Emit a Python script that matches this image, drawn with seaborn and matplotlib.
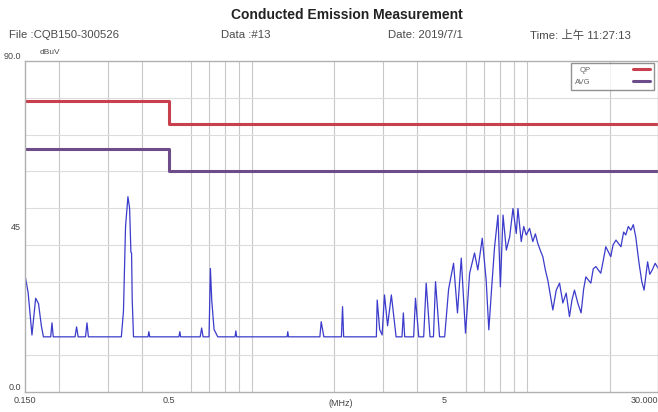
import numpy as np
import pandas as pd
import matplotlib
matplotlib.use("Agg")
import matplotlib.pyplot as plt
import matplotlib.ticker as mticker
import seaborn as sns

# measured trace (MHz, dBuV)
freq = [0.150, 0.154, 0.159, 0.164, 0.168, 0.172, 0.175,
        0.186, 0.188, 0.190, 0.228, 0.231, 0.234, 0.249, 0.252, 0.255,
        0.336, 0.342, 0.348, 0.355, 0.360, 0.364, 0.366, 0.368, 0.372,
        0.420, 0.423, 0.426, 0.544, 0.548, 0.552, 0.650, 0.658, 0.666,
        0.700, 0.708, 0.716, 0.730, 0.753, 0.870, 0.876, 0.882,
        1.345, 1.353, 1.361, 1.77, 1.79, 1.83, 2.12, 2.14, 2.16,
        2.84, 2.86, 2.92, 2.98, 3.04, 3.12, 3.22, 3.35,
        3.52, 3.56, 3.60, 3.88, 3.94, 4.05, 4.22, 4.31, 4.45, 4.58, 4.66, 4.82,
        5.03, 5.20, 5.42, 5.60, 5.78, 5.99, 6.20, 6.46, 6.64, 6.89, 7.12, 7.28,
        7.45, 7.64, 7.86, 8.02, 8.20, 8.43, 8.67, 8.91, 9.16, 9.29, 9.55, 9.75,
        9.96, 10.24, 10.52, 10.75, 10.97, 11.2, 11.44, 11.7, 11.93, 12.2, 12.44,
        12.80, 13.16, 13.53, 13.91, 14.30, 14.6, 14.91, 15.33, 15.76, 16.1,
        16.40, 17.10, 17.45, 17.83, 18.58, 19.0, 19.38, 20.2, 20.6, 21.1,
        22.0, 22.5, 22.9, 23.4, 23.9, 24.4, 24.9, 25.6, 26.2, 26.7, 27.5,
        28.0, 28.6, 29.3, 30.0]
level = [31.8, 27.0, 15.5, 25.5, 24.0, 18.0, 15.0,
         15.0, 18.8, 15.0, 15.0, 17.7, 15.0, 15.0, 18.8, 15.0,
         15.0, 22.0, 45.0, 53.1, 50.0, 38.0, 37.8, 25.0, 15.0,
         15.0, 16.4, 15.0, 15.0, 16.4, 15.0, 15.0, 17.4, 15.0,
         15.0, 33.6, 25.0, 17.0, 15.0, 15.0, 16.6, 15.0,
         15.0, 16.4, 15.0, 15.0, 19.1, 15.0, 15.0, 23.2, 15.0,
         15.0, 25.0, 17.0, 15.5, 26.4, 18.0, 26.4, 15.0,
         15.0, 21.5, 15.0, 15.0, 25.5, 15.0, 15.0, 29.6, 15.0, 15.0, 30.0, 15.0,
         15.0, 28.0, 35.0, 21.5, 36.4, 16.0, 32.3, 37.8, 33.2, 41.8, 30.4, 16.9,
         28.0, 39.5, 48.1, 28.6, 48.1, 38.6, 42.2, 49.9, 43.1, 49.9, 40.9, 45.0,
         42.7, 44.5, 40.9, 43.0, 40.4, 38.5, 36.8, 33.0, 30.4, 26.0, 22.3,
         27.7, 29.6, 24.2, 26.9, 20.5, 25.0, 27.7, 24.2, 21.5, 28.0,
         31.3, 29.6, 33.5, 34.1, 32.3, 36.0, 39.5, 36.8, 40.0, 41.3,
         39.5, 43.5, 42.7, 45.0, 44.0, 45.5, 42.2, 35.0, 30.0, 27.7, 35.4,
         32.0, 33.2, 35.0, 33.7]

# CISPR class A limits
lim_freq = [0.15, 0.5, 0.5, 30.0]
qp_limit = [79, 79, 73, 73]
avg_limit = [66, 66, 60, 60]

x_ticks = [0.15, 0.5, 5, 30]
x_labels = ["0.150", "0.5", "5", "30.000"]

sns.set_style("white")
plt.rcParams["font.family"] = ["Liberation Sans", "Noto Sans CJK SC"]

trace = pd.DataFrame({"MHz": freq, "dBuV": level})
limits = pd.DataFrame({"MHz": lim_freq * 2,
                       "dBuV": qp_limit + avg_limit,
                       "type": ["QP"] * 4 + ["AVG"] * 4})

fig = plt.figure(figsize=(6.58, 4.12), dpi=100)
ax = fig.add_axes([25 / 658, 20 / 412, 633 / 658, 331 / 412])

sns.lineplot(data=limits, x="MHz", y="dBuV", hue="type", sort=False, estimator=None,
             palette={"QP": "#c8404e", "AVG": "#6c4d8a"}, linewidth=2.2, ax=ax)
sns.lineplot(data=trace, x="MHz", y="dBuV", sort=False, estimator=None,
             color="#3b3bcc", linewidth=0.9, ax=ax, legend=False)

ax.set_xscale("log")
ax.set_xlim(0.15, 30)
ax.set_ylim(0, 90)
ax.set_xlabel("")
ax.set_ylabel("")

# grid
minor = [m * d for d in (0.1, 1, 10) for m in range(1, 10) if 0.15 < m * d < 30]
ax.set_xticks(minor, minor=True)
ax.xaxis.set_minor_formatter(mticker.NullFormatter())
ax.set_xticks(x_ticks, x_labels)
ax.set_yticks(range(10, 90, 10), minor=True)
ax.set_yticks([0, 45, 90], ["0.0", "45", "90.0"])
ax.grid(True, which="minor", axis="x", color="#c8c8c8", linewidth=0.8)
ax.grid(True, which="minor", axis="y", color="#dcdcdc", linewidth=0.8)
ax.tick_params(which="both", length=0, labelsize=6.5, colors="#444444", pad=3)
ax.get_xticklabels()[-1].set_ha("right")
ylabs = ax.get_yticklabels()
ylabs[0].set_va("bottom")
ylabs[2].set_va("bottom")
ax.text(2.1, -0.022, "(MHz)", transform=ax.get_xaxis_transform(),
        ha="center", va="top", fontsize=6.5, color="#444444")

for s in ax.spines.values():
    s.set_color("#b0b0b0")
    s.set_linewidth(1.0)

leg = ax.legend(loc="upper right", bbox_to_anchor=(0.993, 0.995), borderaxespad=0,
                markerfirst=False, fontsize=5.5, frameon=True, fancybox=False,
                handlelength=2.2, handletextpad=5.5, borderpad=0.5,
                labelspacing=0.6, title=None)
leg.get_frame().set_edgecolor("#777777")
leg.get_frame().set_linewidth(1.0)
for t in leg.get_texts():
    t.set_color("#666666")

# header
hc = "#4a4a4a"
fig.text(347 / 658, 1 - 15 / 412, "Conducted Emission Measurement",
         ha="center", va="center", fontsize=10, fontweight="bold", color="#222222")
fig.text(9 / 658, 1 - 35 / 412, "File :CQB150-300526", va="center", fontsize=8.2, color=hc)
fig.text(221 / 658, 1 - 35 / 412, "Data :#13", va="center", fontsize=8.2, color=hc)
fig.text(388 / 658, 1 - 35 / 412, "Date: 2019/7/1", va="center", fontsize=8.2, color=hc)
fig.text(530 / 658, 1 - 35 / 412, "Time: 上午 11:27:13", va="center", fontsize=8.2, color=hc)
fig.text(40 / 658, 1 - 52 / 412, "dBuV", va="center", fontsize=6, color=hc)

fig.savefig("out.png", dpi=100)
